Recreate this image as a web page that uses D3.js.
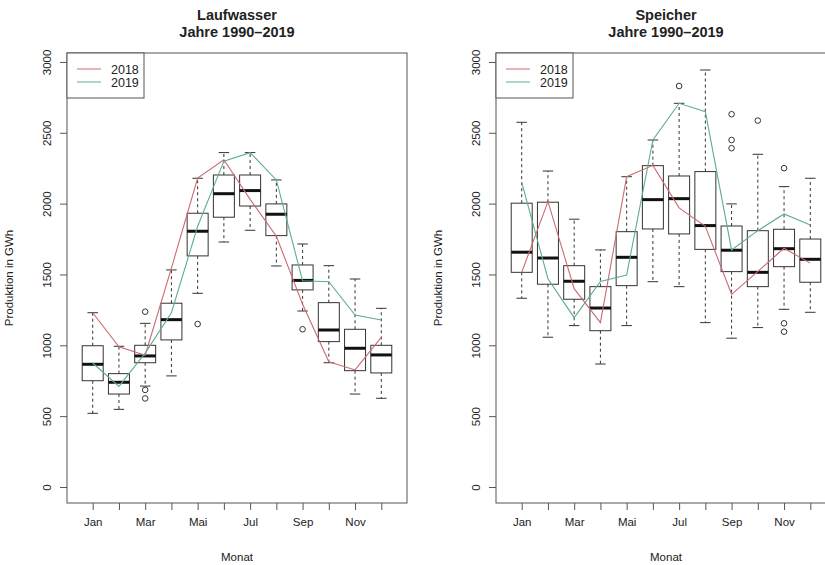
<!DOCTYPE html>
<html>
<head>
<meta charset="utf-8">
<script src="https://cdn.jsdelivr.net/npm/d3@7"></script>
<style>
  body { margin: 0; background: #fff; }
  text { font-family: "Liberation Sans", Arial, sans-serif; fill: #222; }
</style>
</head>
<body>
<script>
// Month labels (only every 2nd one is printed, like R does)
const months = ["Jan", "Feb", "Mar", "Apr", "Mai", "Jun", "Jul", "Aug", "Sep", "Okt", "Nov", "Dez"];
const yTicks = [0, 500, 1000, 1500, 2000, 2500, 3000];
const years = ["2018", "2019"];

// Laufwasser: boxplot stats 1990-2019 (GWh)
const laufLow  = [520, 548, 712, 784, 1367, 1729, 1812, 1560, 1242, 877, 656, 626];
const laufQ1   = [750, 656, 877, 1038, 1631, 1904, 1983, 1774, 1391, 1026, 821, 805];
const laufMed  = [866, 739, 925, 1181, 1805, 2070, 2092, 1925, 1458, 1108, 979, 932];
const laufQ3   = [997, 800, 1000, 1297, 1932, 2202, 2202, 1998, 1567, 1301, 1113, 1000];
const laufHigh = [1230, 993, 1155, 1532, 2179, 2360, 2360, 2167, 1715, 1562, 1468, 1261];
const laufOut  = [[], [], [1237, 685, 625], [], [1150], [], [], [], [1113], [], [], []];
const lauf2018 = [1230, 990, 930, 1545, 2180, 2310, 2030, 1770, 1290, 884, 826, 1056];
const lauf2019 = [875, 710, 945, 1230, 1840, 2300, 2360, 2167, 1455, 1449, 1214, 1179];

// Speicher: boxplot stats 1990-2019 (GWh)
const speiLow  = [1332, 1057, 1139, 868, 1139, 1449, 1414, 1160, 1050, 1125, 1254, 1233];
const speiQ1   = [1515, 1431, 1325, 1103, 1421, 1821, 1786, 1677, 1520, 1414, 1555, 1445];
const speiMed  = [1657, 1616, 1452, 1263, 1621, 2028, 2035, 1845, 1671, 1515, 1682, 1607];
const speiQ3   = [2003, 2010, 1562, 1414, 1802, 2268, 2195, 2226, 1842, 1809, 1819, 1750];
const speiHigh = [2574, 2230, 1890, 1673, 2190, 2449, 2708, 2943, 1998, 2348, 2120, 2179];
const speiOut  = [[], [], [], [], [], [], [2830], [], [2631, 2449, 2391], [2586], [2250, 1155, 1096], []];
const spei2018 = [1515, 2014, 1400, 1160, 2190, 2270, 1970, 1840, 1360, 1522, 1685, 1580];
const spei2019 = [2150, 1470, 1195, 1450, 1496, 2449, 2708, 2649, 1673, 1809, 1927, 1849];

const lineColors = ["#cc6a70", "#5eae8e"];

const W = 825, H = 565;
const plotTop = 53, plotBottom = 503, plotW = 340;

const svg = d3.select("body").append("svg")
  .attr("width", W).attr("height", H);

const panels = [
  { title: "Laufwasser", left: 67,
    low: laufLow, q1: laufQ1, med: laufMed, q3: laufQ3, high: laufHigh, out: laufOut,
    lines: [lauf2018, lauf2019] },
  { title: "Speicher", left: 496,
    low: speiLow, q1: speiQ1, med: speiMed, q3: speiQ3, high: speiHigh, out: speiOut,
    lines: [spei2018, spei2019] }
];

const y = d3.scaleLinear().domain([-113, 3063]).range([plotBottom, plotTop]);

panels.forEach(p => {
  const x = d3.scaleLinear().domain([0.02, 12.98]).range([p.left, p.left + plotW]);
  const bw = (x(1) - x(0)) * 0.8;
  const g = svg.append("g");
  const idx = d3.range(12);

  // titles
  const cx = p.left + plotW / 2;
  g.append("text").attr("x", cx).attr("y", 20).attr("text-anchor", "middle")
    .style("font-size", "14.5px").style("font-weight", "bold").text(p.title);
  g.append("text").attr("x", cx).attr("y", 37).attr("text-anchor", "middle")
    .style("font-size", "14.5px").style("font-weight", "bold").text("Jahre 1990\u20132019");

  // axis labels
  g.append("text").attr("x", cx).attr("y", 561).attr("text-anchor", "middle")
    .style("font-size", "11.5px").text("Monat");
  g.append("text")
    .attr("transform", `translate(${p.left - 54},${(plotTop + plotBottom) / 2}) rotate(-90)`)
    .attr("text-anchor", "middle").style("font-size", "11.5px").text("Produktion in GWh");

  // y axis
  const ya = g.append("g").attr("transform", `translate(${p.left},0)`)
    .call(d3.axisLeft(y).tickValues(yTicks).tickSize(7).tickFormat(d3.format("d")));
  ya.select(".domain").remove();
  ya.selectAll("line").attr("stroke", "#555");
  ya.selectAll("text")
    .attr("x", 0).attr("dy", null)
    .attr("transform", "translate(-16,0) rotate(-90)")
    .attr("text-anchor", "middle")
    .style("font-size", "11.5px").attr("fill", "#222");

  // x axis
  const xa = g.append("g").attr("transform", `translate(0,${plotBottom})`)
    .call(d3.axisBottom(x).tickValues(d3.range(1, 13)).tickSize(7).tickPadding(8)
      .tickFormat(d => (d % 2 === 1 ? months[d - 1] : "")));
  xa.select(".domain").remove();
  xa.selectAll("line").attr("stroke", "#555");
  xa.selectAll("text").style("font-size", "11.5px").attr("fill", "#222");

  // whiskers
  const wh = g.append("g");
  wh.append("g").selectAll("line").data(idx).join("line")
    .attr("x1", i => x(i + 1)).attr("x2", i => x(i + 1))
    .attr("y1", i => y(p.q3[i])).attr("y2", i => y(p.high[i]))
    .attr("stroke", "#333").attr("stroke-dasharray", "3,3");
  wh.append("g").selectAll("line").data(idx).join("line")
    .attr("x1", i => x(i + 1)).attr("x2", i => x(i + 1))
    .attr("y1", i => y(p.q1[i])).attr("y2", i => y(p.low[i]))
    .attr("stroke", "#333").attr("stroke-dasharray", "3,3");
  [p.high, p.low].forEach(arr => {
    wh.append("g").selectAll("line").data(idx).join("line")
      .attr("x1", i => x(i + 1) - bw / 4).attr("x2", i => x(i + 1) + bw / 4)
      .attr("y1", i => y(arr[i])).attr("y2", i => y(arr[i]))
      .attr("stroke", "#333");
  });

  // boxes
  g.append("g").selectAll("rect").data(idx).join("rect")
    .attr("x", i => x(i + 1) - bw / 2).attr("width", bw)
    .attr("y", i => y(p.q3[i])).attr("height", i => y(p.q1[i]) - y(p.q3[i]))
    .attr("fill", "#fff").attr("stroke", "#333");
  g.append("g").selectAll("line").data(idx).join("line")
    .attr("x1", i => x(i + 1) - bw / 2).attr("x2", i => x(i + 1) + bw / 2)
    .attr("y1", i => y(p.med[i])).attr("y2", i => y(p.med[i]))
    .attr("stroke", "#111").attr("stroke-width", 3);

  // outliers
  const outs = p.out.flatMap((vals, i) => vals.map(v => ({ m: i + 1, v })));
  g.append("g").selectAll("circle").data(outs).join("circle")
    .attr("cx", d => x(d.m)).attr("cy", d => y(d.v)).attr("r", 2.8)
    .attr("fill", "none").attr("stroke", "#333");

  // year lines
  const line = d3.line().x((d, i) => x(i + 1)).y(d => y(d));
  p.lines.forEach((vals, k) => {
    g.append("path").datum(vals).attr("d", line)
      .attr("fill", "none").attr("stroke", lineColors[k]).attr("stroke-width", 1.1);
  });

  // frame
  g.append("rect").attr("x", p.left).attr("y", plotTop)
    .attr("width", plotW).attr("height", plotBottom - plotTop)
    .attr("fill", "none").attr("stroke", "#555");

  // legend
  const lg = g.append("g");
  lg.append("rect").attr("x", p.left).attr("y", plotTop).attr("width", 77).attr("height", 45)
    .attr("fill", "#fff").attr("stroke", "#555");
  years.forEach((yr, k) => {
    const ly = 69 + k * 13;
    lg.append("line").attr("x1", p.left + 10).attr("x2", p.left + 34)
      .attr("y1", ly).attr("y2", ly).attr("stroke", lineColors[k]);
    lg.append("text").attr("x", p.left + 44).attr("y", ly + 4.5)
      .style("font-size", "12.5px").text(yr);
  });
});
</script>
</body>
</html>
